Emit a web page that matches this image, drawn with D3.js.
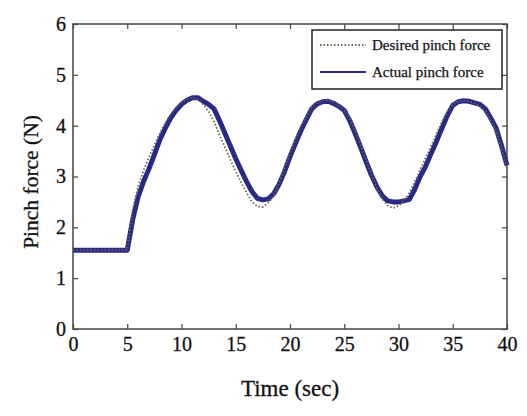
<!DOCTYPE html>
<html>
<head>
<meta charset="utf-8">
<script src="https://cdn.jsdelivr.net/npm/d3@7"></script>
<style>
  body { margin: 0; background: #fff; }
  svg text { font-family: "Liberation Serif", "DejaVu Serif", serif; fill: #111; }
</style>
</head>
<body>
<div id="chart"></div>
<script>
// time samples (sec)
var time = [0, 0.5, 1, 1.5, 2, 2.5, 3, 3.5, 4, 4.5, 5, 5.5, 6, 6.5, 7, 7.5, 8, 8.5, 9, 9.5,
  10, 10.5, 11, 11.5, 12, 12.5, 13, 13.5, 14, 14.5, 15, 15.5, 16, 16.5, 17, 17.5, 18, 18.5, 19, 19.5,
  20, 20.5, 21, 21.5, 22, 22.5, 23, 23.5, 24, 24.5, 25, 25.5, 26, 26.5, 27, 27.5, 28, 28.5, 29, 29.5,
  30, 30.5, 31, 31.5, 32, 32.5, 33, 33.5, 34, 34.5, 35, 35.5, 36, 36.5, 37, 37.5, 38, 38.5, 39, 39.5, 40];

var desired = [1.55, 1.55, 1.55, 1.55, 1.55, 1.55, 1.55, 1.55, 1.55, 1.55, 1.55, 2.35, 2.8, 3.12, 3.38, 3.62, 3.85, 4.05, 4.22, 4.36,
  4.46, 4.52, 4.55, 4.52, 4.42, 4.28, 4.08, 3.82, 3.58, 3.33, 3.1, 2.88, 2.68, 2.5, 2.41, 2.4, 2.48, 2.62, 2.88, 3.16,
  3.46, 3.73, 3.97, 4.18, 4.36, 4.45, 4.5, 4.5, 4.46, 4.39, 4.3, 4.14, 3.9, 3.63, 3.33, 3.04, 2.78, 2.56, 2.43, 2.38,
  2.42, 2.52, 2.68, 2.9, 3.13, 3.37, 3.6, 3.84, 4.07, 4.28, 4.42, 4.48, 4.5, 4.48, 4.44, 4.38, 4.3, 4.12, 3.9, 3.56, 3.15];

var actual = [1.55, 1.55, 1.55, 1.55, 1.55, 1.55, 1.55, 1.55, 1.55, 1.55, 1.55, 2.15, 2.6, 2.9, 3.15, 3.43, 3.72, 3.95, 4.15, 4.3,
  4.42, 4.5, 4.55, 4.55, 4.48, 4.42, 4.33, 4.1, 3.85, 3.6, 3.35, 3.12, 2.9, 2.7, 2.57, 2.54, 2.56, 2.66, 2.85, 3.1,
  3.39, 3.65, 3.9, 4.12, 4.33, 4.43, 4.47, 4.48, 4.44, 4.38, 4.3, 4.1, 3.85, 3.58, 3.3, 3.03, 2.8, 2.62, 2.52, 2.5,
  2.5, 2.52, 2.55, 2.75, 3.0, 3.2, 3.45, 3.69, 3.95, 4.2, 4.4, 4.47, 4.49, 4.48, 4.45, 4.42, 4.33, 4.15, 3.95, 3.6, 3.22];

var xTicks = [0, 5, 10, 15, 20, 25, 30, 35, 40];
var yTicks = [0, 1, 2, 3, 4, 5, 6];
var legendLabels = ["Desired pinch force", "Actual pinch force"];

var margin = {top: 24, right: 20, bottom: 87, left: 73},
    width = 527 - margin.left - margin.right,
    height = 416 - margin.top - margin.bottom;

var x = d3.scaleLinear().domain([0, 40]).range([0, width]);
var y = d3.scaleLinear().domain([0, 6]).range([height, 0]);

var svg = d3.select("#chart").append("svg")
    .attr("width", 527)
    .attr("height", 416)
  .append("g")
    .attr("transform", "translate(" + margin.left + "," + margin.top + ")");

// frame
svg.append("rect")
    .attr("width", width).attr("height", height)
    .attr("fill", "none").attr("stroke", "#444").attr("stroke-width", 1.5);

// axes with inward ticks (matlab style)
var xAxis = d3.axisBottom(x).tickValues(xTicks).tickSize(-5).tickPadding(8).tickFormat(d3.format("d"));
var xAxisTop = d3.axisTop(x).tickValues(xTicks).tickSize(-5).tickFormat("");
var yAxis = d3.axisLeft(y).tickValues(yTicks).tickSize(-5).tickPadding(7).tickFormat(d3.format("d"));
var yAxisRight = d3.axisRight(y).tickValues(yTicks).tickSize(-5).tickFormat("");

function styleAxis(g) {
  g.select(".domain").remove();
  g.selectAll(".tick line").attr("stroke", "#444").attr("stroke-width", 1.2);
  g.selectAll(".tick text").style("font-size", "20px").attr("fill", "#111")
    .attr("stroke", "#111").attr("stroke-width", 0.3);
}

svg.append("g").attr("transform", "translate(0," + height + ")").call(xAxis).call(styleAxis);
svg.append("g").call(xAxisTop).call(styleAxis);
svg.append("g").call(yAxis).call(styleAxis);
svg.append("g").attr("transform", "translate(" + width + ",0)").call(yAxisRight).call(styleAxis);

var forceLine = d3.line()
    .x(function(d, i) { return x(time[i]); })
    .y(function(d) { return y(d); });

svg.append("path")
    .attr("d", forceLine(actual))
    .attr("fill", "none")
    .attr("stroke", "#2a2a86")
    .attr("stroke-width", 5)
    .attr("stroke-linejoin", "round");

svg.append("path")
    .attr("d", forceLine(desired))
    .attr("fill", "none")
    .attr("stroke", "#666650")
    .attr("stroke-width", 1.8)
    .attr("stroke-dasharray", "1.5,2");

// legend
var legend = svg.append("g").attr("transform", "translate(" + (312 - margin.left) + "," + (30 - margin.top) + ")");
legend.append("rect")
    .attr("width", 190).attr("height", 59)
    .attr("fill", "#fff").attr("stroke", "#222").attr("stroke-width", 1.5);
legend.append("line")
    .attr("x1", 8).attr("x2", 54).attr("y1", 15).attr("y2", 15)
    .attr("stroke", "#666650").attr("stroke-width", 1.8).attr("stroke-dasharray", "1.5,2");
legend.append("line")
    .attr("x1", 8).attr("x2", 54).attr("y1", 42).attr("y2", 42)
    .attr("stroke", "#2a2a86").attr("stroke-width", 2);
legend.selectAll("text.lab").data(legendLabels).enter().append("text")
    .attr("x", 60)
    .attr("y", function(d, i) { return 20 + i * 27; })
    .style("font-size", "15px")
    .attr("stroke", "#111").attr("stroke-width", 0.25)
    .text(function(d) { return d; });

// axis titles
svg.append("text")
    .attr("text-anchor", "middle")
    .attr("x", 290 - margin.left)
    .attr("y", 396 - margin.top)
    .style("font-size", "23px")
    .attr("stroke", "#111").attr("stroke-width", 0.3)
    .text("Time (sec)");

svg.append("text")
    .attr("text-anchor", "middle")
    .attr("transform", "translate(" + (38 - margin.left) + "," + (182 - margin.top) + ") rotate(-90)")
    .style("font-size", "21.5px")
    .attr("stroke", "#111").attr("stroke-width", 0.3)
    .text("Pinch force (N)");
</script>
</body>
</html>
